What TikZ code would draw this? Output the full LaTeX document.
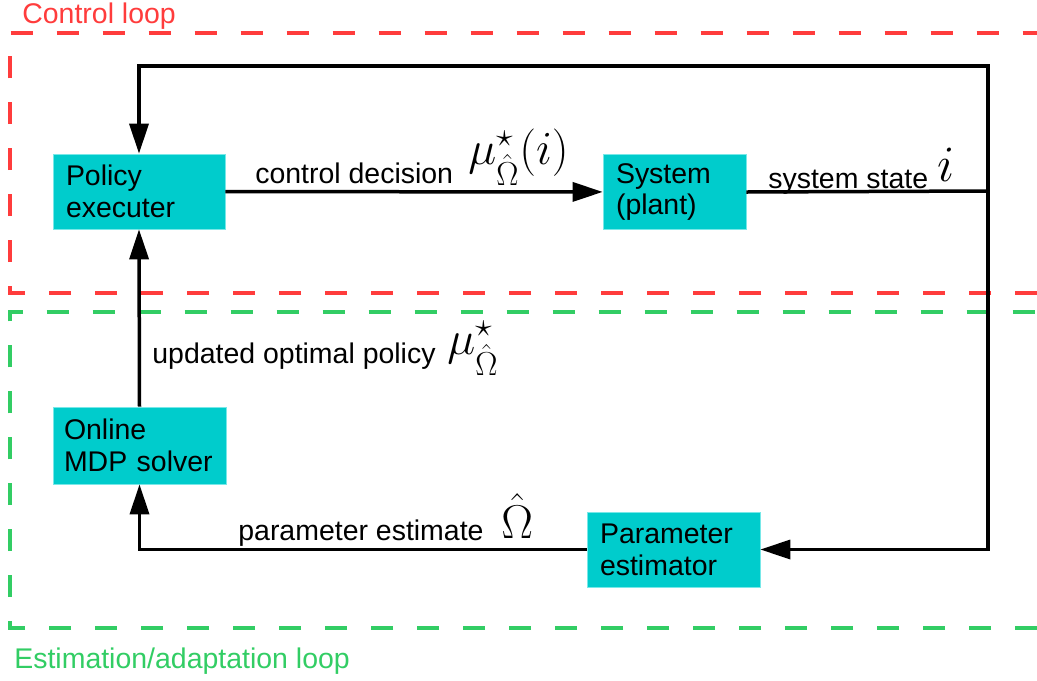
\documentclass[tikz,border=0pt]{standalone}
\usepackage{fix-cm}
\usepackage{amsmath,amssymb}
\usepackage{fontspec}
\setmainfont{Liberation Sans}
\usepackage{tikz}
\usetikzlibrary{arrows.meta}
\definecolor{blockcyan}{RGB}{0,204,204}
\definecolor{blockedge}{RGB}{120,232,232}
\definecolor{loopred}{RGB}{255,60,60}
\definecolor{loopgreen}{RGB}{50,205,100}
\newcommand{\txtsize}{\fontsize{16.2}{18.2}\selectfont}
\newcommand{\mathsize}{\fontsize{27}{30}\selectfont}
\newcommand{\loopframe}[3]{\draw[#1, line width=0.08cm, dash pattern=on 0.44cm off 0.48cm] (1037,#3) -- (10,#3) -- (10,#2) -- (1037,#2);}

\begin{document}
\begin{tikzpicture}[x=0.02cm, y=-0.02cm,
  block/.style={rectangle, fill=blockcyan, draw=blockedge, line width=0.4pt,
    align=left, inner xsep=0.26cm, inner ysep=0pt, minimum height=1.5cm,
    font=\txtsize},
  lbl/.style={anchor=base west, inner sep=0pt, font=\txtsize},
  mlbl/.style={anchor=base west, inner sep=0pt, font=\mathsize},
  wire/.style={line width=0.07cm},
  flow/.style={wire, -{Triangle[length=0.6cm, width=0.38cm]}}]
\useasboundingbox (0,0) rectangle (1037,680);
% the two loop frames
\loopframe{loopred}{33}{293}
\loopframe{loopgreen}{312}{628}
\node[lbl, text=loopred] (ctrlloop) at (22,23) {Control loop};
\node[lbl, text=loopgreen] (estloop) at (14,668) {Estimation/adaptation loop};
% blocks
\node[block, text width=2.92cm] (policy) at (139,191.5) {Policy\\executer};
\node[block, text width=2.34cm] (plant) at (674.5,192) {System\\(plant)};
\node[block, text width=3.02cm, inner xsep=0.22cm, minimum height=1.54cm] (solver) at (139.5,445.5) {Online\\MDP solver};
\node[block, text width=2.94cm] (estimator) at (673.5,549.5) {Parameter\\estimator};
% corners of the feedback wires
\coordinate (rtop) at (988,66);
\coordinate (rmid) at (988,191);
\coordinate (rbot) at (rtop |- estimator.east);
% wires
\draw[flow] (policy) -- (plant);
\draw[wire] (plant.east) -- (rmid);
\draw[flow] (rmid) -- (rtop) -| (policy.north);
\draw[flow] (rmid) -- (rbot) -- (estimator.east);
\draw[flow] (estimator.west) -| (solver.south);
\draw[flow] (solver.north) -- (policy.south);
% wire labels
\node[lbl] (ctrltxt) at (255,183) {control decision};
\node[mlbl] (ctrlmath) at (468,164) {$\mu^{\star}_{\hat\Omega}(i)$};
\node[lbl] (statetxt) at (768,188) {system state};
\node[mlbl, font=\fontsize{29}{32}\selectfont] (statemath) at (937,181) {$i$};
\node[lbl] (policytxt) at (152,363) {updated optimal policy};
\node[mlbl] (policymath) at (447,354) {$\mu^{\star}_{\hat\Omega}$};
\node[lbl] (esttxt) at (238,540) {parameter estimate};
\node[mlbl] (estmath) at (501,538) {$\hat\Omega$};
\end{tikzpicture}
\end{document}
